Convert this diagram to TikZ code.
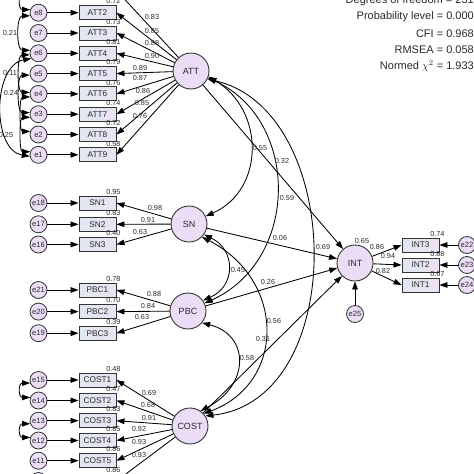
\documentclass[tikz,border=0pt]{standalone}
\usepackage{fontspec}
\setmainfont{Liberation Sans}
\usetikzlibrary{arrows.meta,calc}
\definecolor{latfill}{HTML}{EADDF5}
\definecolor{obsL}{HTML}{DFE7F1}
\definecolor{obsR}{HTML}{EDE1F3}
\definecolor{edge}{HTML}{333333}
\definecolor{txt}{HTML}{2A2A2A}
\begin{document}
\begin{tikzpicture}[x=1pt,y=-1pt,
  lat/.style={circle,draw=edge,line width=0.9pt,fill=latfill,minimum size=36pt,inner sep=0pt,font=\fontsize{9}{9}\selectfont,text=txt},
  err/.style={circle,draw=edge,line width=0.8pt,fill=latfill,minimum size=17pt,inner sep=0pt,font=\fontsize{7.6}{7.6}\selectfont,text=txt},
  obs/.style={rectangle,draw=edge,line width=0.9pt,left color=obsL,right color=obsR,minimum width=37pt,minimum height=14pt,inner sep=0pt,font=\fontsize{8.3}{8.3}\selectfont,text=txt},
  num/.style={inner sep=0pt,font=\fontsize{7.3}{7.3}\selectfont,text=txt},
  rsq/.style={num,anchor=south},
  stat/.style={inner sep=0pt,anchor=east,font=\fontsize{11}{11}\selectfont,text=txt},
  arr/.style={draw=black,line width=0.85pt,-{Triangle[length=8pt,width=5.6pt]}},
  cov/.style={draw=black,line width=0.85pt,{Triangle[length=8pt,width=5.6pt]}-{Triangle[length=8pt,width=5.6pt]}},
]
\useasboundingbox (0,0) rectangle (474,474);
\clip (0,0) rectangle (474,474);

% ---------- latent variables ----------
\node[lat] (ATT) at (191,71) {ATT};
\node[lat] (SN) at (189,224) {SN};
\node[lat] (PBC) at (188,311) {PBC};
\node[lat] (COST) at (190,426) {COST};
\node[lat] (INT) at (355,263) {INT};
\node[err] (e25) at (355,314) {e25};

% ---------- ATT indicators ----------
\node[obs] (ATT1) at (97.5,-9.5) {ATT1};
\node[err] (e9) at (38.5,-9.5) {e9};
\foreach \i/\e in {2/8,3/7,4/6,5/5,6/4,7/3,8/2,9/1} {
  \pgfmathsetmacro\yy{12.7+(\i-2)*20.3}
  \node[obs] (ATT\i) at (97.5,\yy) {ATT\i};
  \node[err] (e\e) at (38.5,\yy) {e\e};
}
\foreach \i/\e in {1/9,2/8,3/7,4/6,5/5,6/4,7/3,8/2,9/1} {
  \draw[arr] (e\e) -- (ATT\i);
  \draw[arr] (ATT) -- (ATT\i.east);
}
\foreach \i/\v in {2/0.72,3/0.73,4/0.81,5/0.79,6/0.76,7/0.74,8/0.72,9/0.58}
  \node[rsq] at ([xshift=-3pt,yshift=1pt]ATT\i.north east) {\v};
\node[num] at (152,17) {0.83};
\node[num] at (152,31) {0.85};
\node[num] at (152,43) {0.88};
\node[num] at (152,56) {0.90};
\node[num] at (140,68) {0.89};
\node[num] at (140,78) {0.87};
\node[num] at (143,91) {0.86};
\node[num] at (142,103) {0.85};
\node[num] at (140,116) {0.76};

% error covariances (ATT)
\draw[cov] (e9.200) .. controls +(-12,0) and +(-12,0) .. (e8.160);
\draw[cov] (e8.200) .. controls +(-14,0) and +(-14,0) .. (e6.160);
\draw[cov] (e6.190) .. controls +(-13,0) and +(-13,0) .. (e4.170);
\draw[cov] (e5.190) .. controls +(-13,0) and +(-13,0) .. (e3.170);
\draw[cov] (e4.200) .. controls +(-11,0) and +(-11,0) .. (e2.160);
\draw[cov] (e3.200) .. controls +(-11,0) and +(-11,0) .. (e1.160);
\draw[cov] (e6.215) .. controls (-8,66) and (-8,150) .. (e1.190);
\node[num] at (10,33) {0.21};
\node[num] at (10,73) {0.11};
\node[num] at (11,93) {0.24};
\node[num] at (6,135) {0.25};

% ---------- SN indicators ----------
\foreach \i/\e/\yy in {1/18/203,2/17/224.3,3/16/244.5} {
  \node[obs] (SN\i) at (97.5,\yy) {SN\i};
  \node[err] (e\e) at (38.5,\yy) {e\e};
}
\foreach \i/\e in {1/18,2/17,3/16} {
  \draw[arr] (e\e) -- (SN\i);
  \draw[arr] (SN) -- (SN\i.east);
}
\foreach \i/\v in {1/0.95,2/0.83,3/0.40}
  \node[rsq] at ([xshift=-3pt,yshift=1pt]SN\i.north east) {\v};
\node[num] at (155,208) {0.98};
\node[num] at (148,220) {0.91};
\node[num] at (140,232) {0.63};

% ---------- PBC indicators ----------
\foreach \i/\e/\yy in {1/21/290,2/20/311.6,3/19/333.2} {
  \node[obs] (PBC\i) at (97.5,\yy) {PBC\i};
  \node[err] (e\e) at (38.5,\yy) {e\e};
}
\foreach \i/\e in {1/21,2/20,3/19} {
  \draw[arr] (e\e) -- (PBC\i);
  \draw[arr] (PBC) -- (PBC\i.east);
}
\foreach \i/\v in {1/0.78,2/0.70,3/0.39}
  \node[rsq] at ([xshift=-3pt,yshift=1pt]PBC\i.north east) {\v};
\node[num] at (154,294) {0.88};
\node[num] at (148,306) {0.84};
\node[num] at (142,317) {0.63};

% ---------- COST indicators ----------
\foreach \i/\e/\yy in {1/15/380,2/14/400.5,3/13/420.7,4/12/440.5,5/11/460.7,6/10/481} {
  \node[obs] (COST\i) at (97.5,\yy) {COST\i};
  \node[err] (e\e) at (38.5,\yy) {e\e};
}
\foreach \i/\e in {1/15,2/14,3/13,4/12,5/11,6/10} {
  \draw[arr] (e\e) -- (COST\i);
  \draw[arr] (COST) -- (COST\i.east);
}
\foreach \i/\v in {1/0.48,2/0.47,3/0.83,4/0.85,5/0.86,6/0.86}
  \node[rsq] at ([xshift=-3pt,yshift=1pt]COST\i.north east) {\v};
\node[num] at (149,393) {0.69};
\node[num] at (148,405) {0.68};
\node[num] at (149,418) {0.91};
\node[num] at (139,429) {0.92};
\node[num] at (139,442) {0.93};
\node[num] at (139,455) {0.93};
\draw[cov] (e15.200) .. controls +(-12,0) and +(-12,0) .. (e14.160);
\draw[cov] (e13.200) .. controls +(-12,0) and +(-12,0) .. (e12.160);

% ---------- INT indicators ----------
\foreach \n/\e/\yy in {3/22/245,2/23/265,1/24/285} {
  \node[obs] (INT\n) at (420.5,\yy) {INT\n};
  \node[err] (e\e) at (467,\yy) {e\e};
}
\foreach \n/\e in {3/22,2/23,1/24} {
  \draw[arr] (e\e) -- (INT\n);
  \draw[arr] (INT) -- (INT\n.west);
}
\foreach \n/\v in {3/0.74,2/0.88,1/0.67}
  \node[rsq] at ([xshift=-2pt,yshift=1pt]INT\n.north east) {\v};
\draw[arr] (e25) -- (INT);
\node[num] at (362,241) {0.65};
\node[num] at (377,247) {0.86};
\node[num] at (388,256) {0.94};
\node[num] at (383,271) {0.82};

% ---------- structural paths ----------
\draw[arr] (ATT) -- (INT);
\draw[arr] (SN) -- (INT);
\draw[arr] (PBC) -- (INT);
\draw[arr] (COST) -- (INT);
\node[num] at (323,247) {0.69};
\node[num] at (280,238) {0.06};
\node[num] at (268,282) {0.26};

% ---------- covariances among exogenous ----------
\draw[cov] (ATT.-18) .. controls (265,110) and (265,190) .. (SN.25);
\draw[cov] (ATT.-22) .. controls (300,120) and (300,260) .. (PBC.25);
\draw[cov] (ATT.-26) .. controls (345,110) and (350,400) .. (COST.33);
\draw[cov] (SN.-35) .. controls (236,250) and (236,286) .. (PBC.35);
\draw[cov] (SN.-45) .. controls (286,280) and (286,383) .. (COST.42);
\draw[cov] (PBC.-40) .. controls (250,335) and (250,385) .. (COST.55);
\node[num] at (260,148) {0.55};
\node[num] at (282,161) {0.32};
\node[num] at (287,198) {0.59};
\node[num] at (238,270) {0.45};
\node[num] at (274,321) {0.56};
\node[num] at (263,339) {0.31};
\node[num] at (247,358) {0.58};

% ---------- fit statistics ----------
\node[stat] at (474,0.8) {Degrees of freedom = 231};
\node[stat] at (474,17) {Probability level = 0.000};
\node[stat] at (474,33.4) {CFI = 0.968};
\node[stat] at (474,49.8) {RMSEA = 0.058};
\node[stat] at (474,66.2) {Normed $\chi^{2}$ = 1.933};
\end{tikzpicture}
\end{document}
